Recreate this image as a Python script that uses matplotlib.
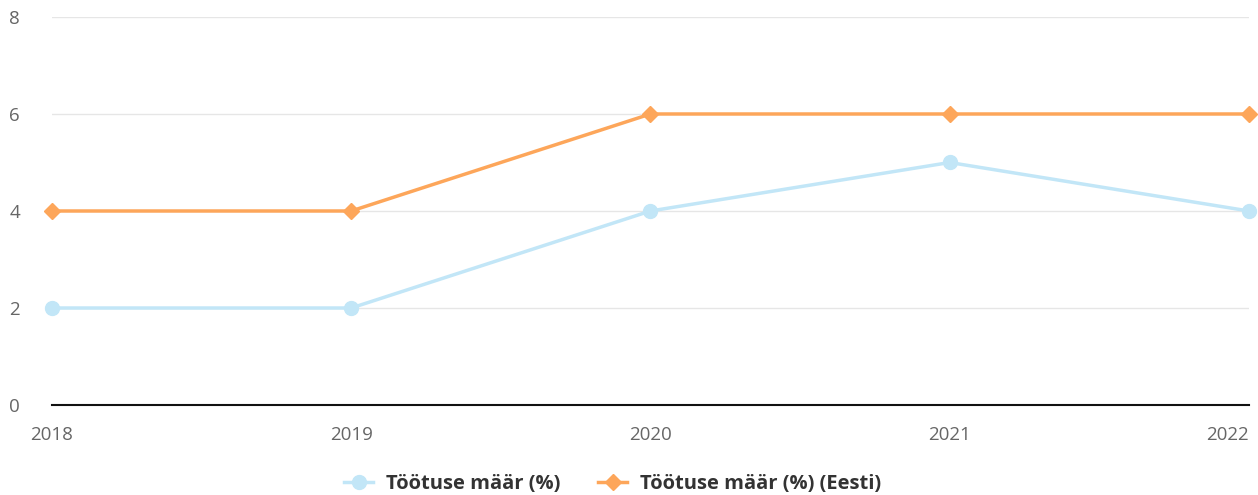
import matplotlib.pyplot as plt

years = ['2018', '2019', '2020', '2021', '2022']
tootus = [2, 2, 4, 5, 4]
tootus_eesti = [4, 4, 6, 6, 6]

plt.rcParams['font.family'] = ['Open Sans', 'DejaVu Sans']

fig = plt.figure(figsize=(12.58, 4.95), dpi=100)
ax = fig.add_axes([0.0413, 0.1818, 0.9515, 0.7839])

x = range(len(years))
ax.plot(x, tootus, color='#C2E6F7', linewidth=2.5, marker='o', markersize=10,
        label='Töötuse määr (%)', zorder=3, clip_on=False)
ax.plot(x, tootus_eesti, color='#FDA65A', linewidth=2.5, marker='D', markersize=8,
        label='Töötuse määr (%) (Eesti)', zorder=4, clip_on=False)

ax.set_xlim(0, len(years) - 1)
ax.set_ylim(0, 8)
ax.set_yticks([0, 2, 4, 6, 8])
ax.set_xticks(list(x))
ax.set_xticklabels(years)
ax.grid(axis='y', color='#E6E6E6', linewidth=1)
ax.set_axisbelow(True)
for s in ['top', 'right', 'left']:
    ax.spines[s].set_visible(False)
ax.spines['bottom'].set_color('#111111')
ax.spines['bottom'].set_linewidth(1.5)
ax.tick_params(axis='both', length=0, labelsize=13.5, labelcolor='#666666')
ax.tick_params(axis='y', pad=23)
ax.tick_params(axis='x', pad=15)
xl = ax.get_xticklabels()
xl[-1].set_horizontalalignment('right')

leg = fig.legend(loc='center', bbox_to_anchor=(0.487, 0.022), ncol=2, frameon=False,
                 prop={'size': 14.5, 'weight': 'bold'}, handlelength=1.4,
                 handletextpad=0.65, columnspacing=1.9)
for t in leg.get_texts():
    t.set_color('#333333')

fig.savefig('out.png', dpi=100)
